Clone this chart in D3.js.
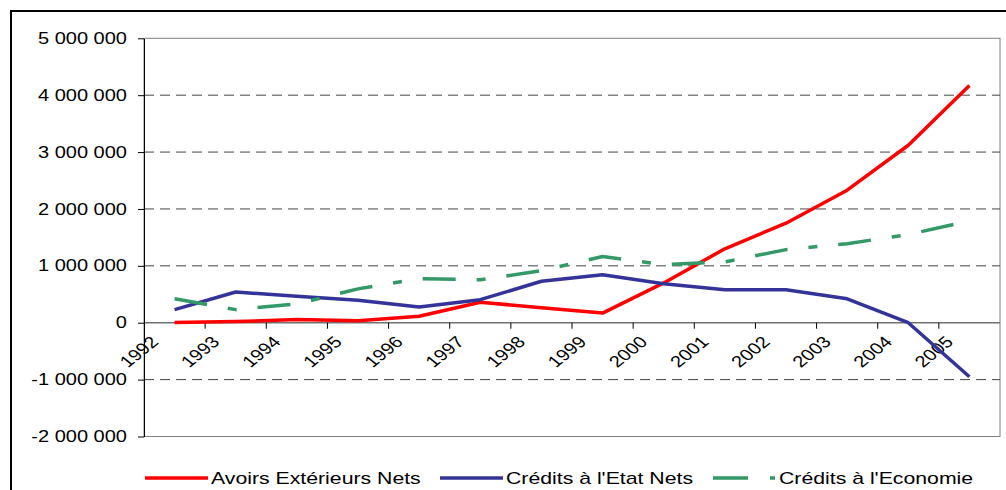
<!DOCTYPE html>
<html>
<head>
<meta charset="utf-8">
<script src="https://cdn.jsdelivr.net/npm/d3@7"></script>
<style>
	body { margin: 0; background: #fff; }
	text { font-family: "Liberation Sans", Arial, sans-serif; fill: #000; }
</style>
</head>
<body>
<div id="chart-area"></div>
<script>

// Data
var years = ["1992", "1993", "1994", "1995", "1996", "1997", "1998", "1999", "2000", "2001", "2002", "2003", "2004", "2005"];
var avoirs = [5000, 20000, 55000, 35000, 115000, 360000, 265000, 170000, 700000, 1300000, 1750000, 2330000, 3120000, 4170000];
var etat = [230000, 540000, 465000, 395000, 275000, 405000, 730000, 845000, 685000, 580000, 580000, 420000, 0, -950000];
var economie = [420000, 230000, 330000, 595000, 775000, 755000, 915000, 1165000, 1020000, 1070000, 1285000, 1390000, 1550000, 1790000];
var yTicks = [-2000000, -1000000, 0, 1000000, 2000000, 3000000, 4000000, 5000000];
var seriesNames = ["Avoirs Extérieurs Nets", "Crédits à l'Etat Nets", "Crédits à l'Economie"];
var seriesColors = ["#ff0000", "#333399", "#339966"];

var width = 1006;
var height = 490;
var stretch = 1.25; // the reference text is wider than it is tall

var svg = d3.select("#chart-area").append("svg")
	.attr("width", width)
	.attr("height", height);

// Outer frame
svg.append("rect")
	.attr("x", 11).attr("y", 11)
	.attr("width", 1010).attr("height", 500)
	.attr("fill", "#fff")
	.attr("stroke", "#000")
	.attr("stroke-width", 2);

// Scales
var x = d3.scaleBand()
	.domain(years)
	.range([144, 1000]);

var y = d3.scaleLinear()
	.domain([-2000000, 5000000])
	.range([436.5, 38.3]);

var fmt = d3.formatLocale({decimal: ",", thousands: " ", grouping: [3], currency: ["", ""], minus: "-"}).format(",");

// Plot area border
svg.append("rect")
	.attr("x", 144).attr("y", y(5000000))
	.attr("width", 1000 - 144).attr("height", y(-2000000) - y(5000000))
	.attr("fill", "none")
	.attr("stroke", "#808080");

// Dashed gridlines
svg.selectAll(".grid")
	.data(yTicks.filter(function(d) { return d != 0 && d != 5000000 && d != -2000000; }))
	.enter().append("line")
	.attr("class", "grid")
	.attr("x1", 144).attr("x2", 1000)
	.attr("y1", function(d) { return y(d); })
	.attr("y2", function(d) { return y(d); })
	.attr("stroke", "#444")
	.attr("stroke-dasharray", "10,6");

// Zero line (category axis)
svg.append("line")
	.attr("x1", 144).attr("x2", 1000)
	.attr("y1", y(0)).attr("y2", y(0))
	.attr("stroke", "#707070")
	.attr("stroke-width", 1.5);

// Category ticks at band edges
svg.selectAll(".xtick")
	.data(years.slice(1))
	.enter().append("line")
	.attr("class", "xtick")
	.attr("x1", function(d) { return x(d); })
	.attr("x2", function(d) { return x(d); })
	.attr("y1", y(0)).attr("y2", y(0) + 6)
	.attr("stroke", "#000");

// Year labels, rotated
svg.selectAll(".xlabel")
	.data(years)
	.enter().append("text")
	.attr("class", "xlabel")
	.attr("text-anchor", "end")
	.style("font-size", "16px")
	.attr("transform", function(d) {
		return "translate(" + (x(d) + x.bandwidth() / 2 - 15) + ",343) scale(" + stretch + ",1) rotate(-45)";
	})
	.text(function(d) { return d; });

// Y axis
var yAxis = d3.axisLeft(y)
	.tickValues(yTicks)
	.tickSize(6)
	.tickSizeOuter(0)
	.tickFormat(fmt);

var yAxisGroup = svg.append("g")
	.attr("class", "y axis")
	.attr("transform", "translate(144,0)")
	.call(yAxis);

yAxisGroup.select(".domain").attr("stroke", "#000");
yAxisGroup.selectAll("line").attr("stroke", "#000");
yAxisGroup.selectAll("text")
	.attr("x", -17 / stretch)
	.attr("transform", "scale(" + stretch + ",1)")
	.style("font-size", "16px")
	.style("font-family", "'Liberation Sans', Arial, sans-serif")
	.attr("fill", "#000");

// Lines
var line = d3.line()
	.x(function(d, i) { return x(years[i]) + x.bandwidth() / 2; })
	.y(function(d) { return y(d); });

var allSeries = [avoirs, etat, economie];
var dashes = [null, null, "33,21,9,21"];

svg.selectAll(".line")
	.data(allSeries)
	.enter().append("path")
	.attr("class", "line")
	.attr("d", function(d) { return line(d); })
	.attr("fill", "none")
	.attr("stroke", function(d, i) { return seriesColors[i]; })
	.attr("stroke-width", 3.5)
	.attr("stroke-linejoin", "round")
	.attr("stroke-dasharray", function(d, i) { return dashes[i]; });

// Legend
var legendX = [145, 440, 713];
var legend = svg.selectAll(".legend")
	.data(seriesNames)
	.enter().append("g")
	.attr("class", "legend")
	.attr("transform", function(d, i) { return "translate(" + legendX[i] + ",478)"; });

legend.append("line")
	.attr("x1", 0).attr("x2", 63)
	.attr("y1", 0).attr("y2", 0)
	.attr("stroke", function(d, i) { return seriesColors[i]; })
	.attr("stroke-width", 3.5)
	.attr("stroke-dasharray", function(d, i) { return i == 2 ? "35,22,5,40" : null; });

legend.append("text")
	.attr("transform", "translate(66,6) scale(" + stretch + ",1)")
	.style("font-size", "17px")
	.text(function(d) { return d; });

</script>
</body>
</html>
